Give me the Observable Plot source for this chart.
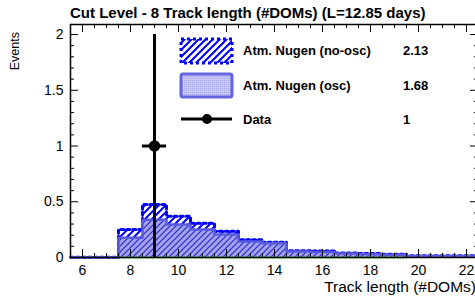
<!DOCTYPE html>
<html><head><meta charset="utf-8">
<script src="https://cdn.jsdelivr.net/npm/d3@7"></script>
<script src="https://cdn.jsdelivr.net/npm/@observablehq/plot@0.6"></script>
<style>body{margin:0;background:#fff} svg{display:block}</style>
</head><body><div id="chart"></div>
<script>
const title = "Cut Level - 8 Track length (#DOMs) (L=12.85 days)";
const xLabel = "Track length (#DOMs)";
const yLabel = "Events";
const binCenters = [6,7,8,9,10,11,12,13,14,15,16,17,18,19,20,21,22];
const nugenNoOsc = [0.003,0.003,0.251,0.475,0.370,0.308,0.236,0.159,0.137,0.060,0.058,0.040,0.035,0.030,0.015,0.015,0.015];
const nugenOsc   = [0.003,0.003,0.177,0.338,0.296,0.251,0.206,0.143,0.128,0.054,0.050,0.035,0.030,0.025,0.012,0.012,0.012];
const otherBkg   = [null,null,0,0,0,0,0,0,0,0,0,0,0,0,null,null,null];
const dataX = [9];
const dataY = [1];
const dataErr = [1];
const legendLabels = ["Atm. Nugen (no-osc)", "Atm. Nugen (osc)", "Data"];
const legendTotals = ["2.13", "1.68", "1"];
const xTicks = [6,8,10,12,14,16,18,20,22];
const yTicks = [0,0.5,1,1.5,2];
const binWidth = 1;

const xMinor = d3.range(5.5, 22.51, 0.5).filter(v => !xTicks.includes(v));
const yMinor = d3.range(1, 21).map(i => i / 10).filter(v => !yTicks.some(t => Math.abs(t - v) < 1e-9));

function bins(vals) {
  return vals.map((v, i) => ({x1: binCenters[i] - binWidth / 2, x2: binCenters[i] + binWidth / 2, v}))
             .filter(d => d.v !== null);
}
function stepPts(vals) {
  const b = bins(vals);
  const pts = b.map(d => ({x: d.x1, y: d.v}));
  const last = b[b.length - 1];
  pts.push({x: last.x2, y: last.v});
  return pts;
}
const points = dataX.map((x, i) => ({x, y: dataY[i], lo: dataY[i] - dataErr[i], hi: dataY[i] + dataErr[i], x1: x - binWidth / 2, x2: x + binWidth / 2}));

const W = 475, H = 297, mL = 70, mR = -3, mT = 24, mB = 40;
const fH = H - mT - mB, fW = W - mL - mR;

const chart = Plot.plot({
  width: W, height: H,
  marginLeft: mL, marginRight: mR, marginTop: mT, marginBottom: mB,
  style: {fontFamily: "'Liberation Sans', Arial, sans-serif", background: "white"},
  x: {domain: [5.5, 22.5]},
  y: {domain: [0, 2.09]},
  marks: [
    Plot.rectY(bins(nugenNoOsc), {x1: "x1", x2: "x2", y: "v", fill: "url(#hatchNoOsc)"}),
    Plot.lineY(stepPts(nugenNoOsc), {x: "x", y: "y", curve: "step-after", stroke: "#0000ff", strokeWidth: 3, strokeDasharray: "3,3"}),
    Plot.rectY(bins(nugenOsc), {x1: "x1", x2: "x2", y: "v", fill: "url(#hatchOsc)"}),
    Plot.lineY(stepPts(nugenOsc), {x: "x", y: "y", curve: "step-after", stroke: "#5a5ae0", strokeWidth: 2.5}),
    Plot.lineY(stepPts(otherBkg), {x: "x", y: "y", curve: "step-after", stroke: "#00cc00", strokeWidth: 1.5}),
    Plot.ruleX(points, {x: "x", y1: "lo", y2: "hi", stroke: "black", strokeWidth: 3}),
    Plot.ruleY(points, {y: "y", x1: "x1", x2: "x2", stroke: "black", strokeWidth: 3}),
    Plot.dot(points, {x: "x", y: "y", r: 5, fill: "black", stroke: "black"}),
    // frame
    Plot.ruleY([0, 2.09], {stroke: "black", strokeWidth: 1.5}),
    Plot.ruleX([5.5, 22.5], {stroke: "black", strokeWidth: 1.5}),
    // ticks (inside)
    Plot.tickX(xTicks, {x: d => d, insetTop: fH - 8, stroke: "black"}),
    Plot.tickX(xMinor, {x: d => d, insetTop: fH - 4, stroke: "black"}),
    Plot.tickX(xTicks, {x: d => d, insetBottom: fH - 8, stroke: "black"}),
    Plot.tickX(xMinor, {x: d => d, insetBottom: fH - 4, stroke: "black"}),
    Plot.tickY(yTicks, {y: d => d, insetRight: fW - 8, stroke: "black"}),
    Plot.tickY(yMinor, {y: d => d, insetRight: fW - 4, stroke: "black"}),
    Plot.tickY(yTicks, {y: d => d, insetLeft: fW - 8, stroke: "black"}),
    Plot.tickY(yMinor, {y: d => d, insetLeft: fW - 4, stroke: "black"}),
    Plot.axisX({ticks: xTicks, tickSize: 0, tickPadding: 8, tickFormat: d => String(d), fontSize: 14, label: null, fill: "black"}),
    Plot.axisY({ticks: yTicks, tickSize: 0, tickPadding: 7, tickFormat: d => String(d), fontSize: 14, label: null, fill: "black"})
  ]
});

const svg = d3.select(chart);
const defs = svg.insert("defs", ":first-child");
const p1 = defs.append("pattern").attr("id", "hatchNoOsc").attr("patternUnits", "userSpaceOnUse").attr("width", 7).attr("height", 7);
p1.append("rect").attr("width", 7).attr("height", 7).attr("fill", "white");
p1.append("path").attr("d", "M0,7 L7,0 M-2,2 L2,-2 M5,9 L9,5").attr("stroke", "#0000ff").attr("stroke-width", 2);
const p2 = defs.append("pattern").attr("id", "hatchOsc").attr("patternUnits", "userSpaceOnUse").attr("width", 6).attr("height", 6);
p2.append("rect").attr("width", 6).attr("height", 6).attr("fill", "#a2a2ee");
p2.append("path").attr("d", "M0,6 L6,0 M-2,2 L2,-2 M4,8 L8,4").attr("stroke", "#2a2ac8").attr("stroke-width", 1.2);
const p3 = defs.append("pattern").attr("id", "gridOsc").attr("patternUnits", "userSpaceOnUse").attr("width", 2).attr("height", 2);
p3.append("rect").attr("width", 2).attr("height", 2).attr("fill", "#c8c8f4");
p3.append("rect").attr("width", 1).attr("height", 1).attr("fill", "#a8a8ea");

const font = "'Liberation Sans', Arial, sans-serif";
svg.append("text").attr("x", 70).attr("y", 18).attr("text-anchor", "start").attr("font-family", font).attr("font-weight", "bold").attr("font-size", 15).attr("fill", "black").text(title);
svg.append("text").attr("x", 476).attr("y", 292).attr("text-anchor", "end").attr("font-family", font).attr("font-size", 15.5).attr("fill", "black").text(xLabel);
svg.append("text").attr("transform", "translate(19,32) rotate(-90)").attr("text-anchor", "end").attr("font-family", font).attr("font-size", 12.5).attr("fill", "black").text(yLabel);

// legend
const lg = svg.append("g").attr("font-family", font).attr("font-weight", "bold").attr("font-size", 13).attr("fill", "black").attr("text-anchor", "start");
lg.append("rect").attr("x", 181).attr("y", 39).attr("width", 51).attr("height", 24).attr("fill", "url(#hatchNoOsc)").attr("stroke", "#0000ff").attr("stroke-width", 3).attr("stroke-dasharray", "3,3");
lg.append("rect").attr("x", 181).attr("y", 74).attr("width", 51).attr("height", 23).attr("rx", 2).attr("fill", "url(#gridOsc)").attr("stroke", "#6464e0").attr("stroke-width", 3);
lg.append("line").attr("x1", 181).attr("x2", 232).attr("y1", 119).attr("y2", 119).attr("stroke", "black").attr("stroke-width", 3);
lg.append("circle").attr("cx", 207).attr("cy", 119).attr("r", 5).attr("fill", "black");
const ys = [55, 90, 124];
legendLabels.forEach((t, i) => lg.append("text").attr("x", 243).attr("y", ys[i]).text(t));
legendTotals.forEach((t, i) => lg.append("text").attr("x", 403).attr("y", ys[i]).text(t));

document.getElementById("chart").appendChild(chart);
</script>
</body></html>
